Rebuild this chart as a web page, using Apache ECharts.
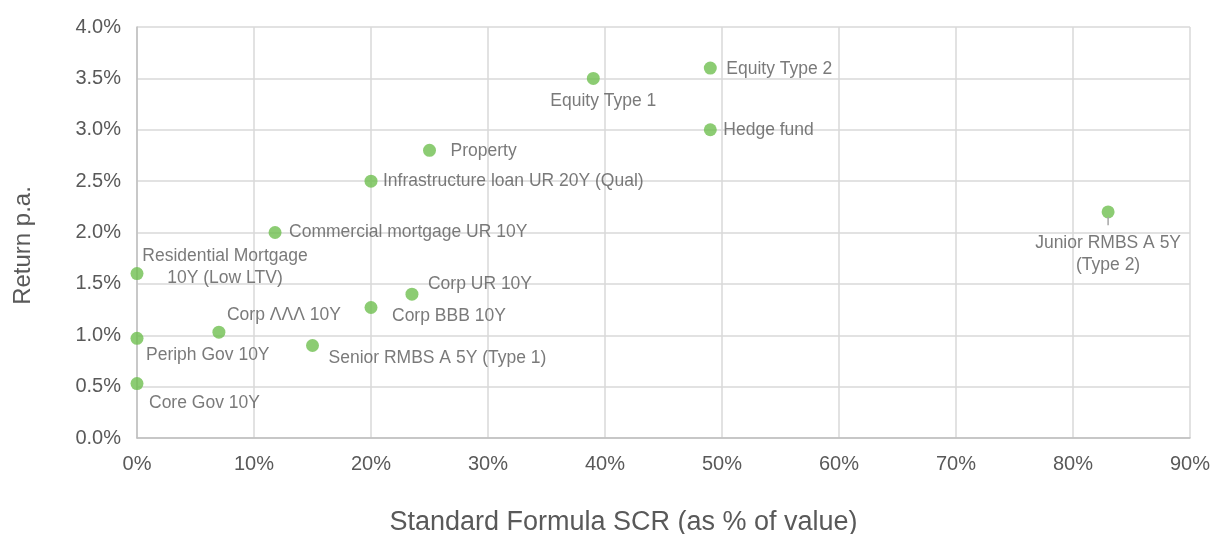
<!DOCTYPE html>
<html>
<head>
<meta charset="utf-8">
<script src="https://cdn.jsdelivr.net/npm/echarts@6/dist/echarts.min.js"></script>
<style>
  html, body { margin: 0; padding: 0; background: #fff; }
  #chart { width: 1212px; height: 534px; }
</style>
</head>
<body>
<div id="chart"></div>
<script>
// asset classes, SCR (% of value) and return p.a. (%)
const assetNames = [
  'Equity Type 2', 'Equity Type 1', 'Hedge fund', 'Property',
  'Infrastructure loan UR 20Y (Qual)', 'Commercial mortgage UR 10Y',
  'Residential Mortgage\n10Y (Low LTV)', 'Corp UR 10Y', 'Corp BBB 10Y',
  'Corp ΛΛΛ 10Y', 'Periph Gov 10Y', 'Senior RMBS A 5Y (Type 1)',
  'Core Gov 10Y', 'Junior RMBS A 5Y\n(Type 2)'
];
const scrValues = [49, 39, 49, 25, 20, 11.8, 0, 23.5, 20, 7, 0, 15, 0, 83];
const returnValues = [3.6, 3.5, 3.0, 2.8, 2.5, 2.0, 1.6, 1.4, 1.27, 1.03, 0.97, 0.9, 0.53, 2.2];

// where each label sits relative to its point: [align, dx, dy]
const labelPlace = [
  ['left', 16, 1], ['center', 10, 23], ['left', 13, 0], ['left', 21, 1],
  ['left', 12, 0], ['left', 14, 0], ['center', 88, -6], ['left', 16, -10],
  ['left', 21, 9], ['center', 65, -17], ['left', 9, 17], ['left', 16, 13],
  ['left', 12, 20], ['center', 0, 42]
];

const chart = echarts.init(document.getElementById('chart'));
const textColor = '#595959';
const font = 'Liberation Sans';

const points = assetNames.map((name, i) => ({
  name: name,
  value: [scrValues[i], returnValues[i]],
  label: {
    align: labelPlace[i][0],
    offset: [labelPlace[i][1], labelPlace[i][2]]
  }
}));

chart.setOption({
  animation: false,
  grid: { left: 137, right: 22, top: 27, bottom: 96, outerBoundsMode: 'none', containLabel: false },
  xAxis: {
    type: 'value',
    min: 0, max: 90, interval: 10,
    name: 'Standard Formula SCR (as % of value)',
    nameLocation: 'middle',
    nameGap: 71,
    nameTextStyle: { fontSize: 27, color: textColor, fontFamily: font, padding: [0, 80, 0, 0] },
    axisLine: { show: true, lineStyle: { color: '#bfbfbf', width: 1.5 } },
    axisTick: { show: false },
    axisLabel: { formatter: '{value}%', fontSize: 20, color: textColor, margin: 16, fontFamily: font },
    splitLine: { show: true, lineStyle: { color: '#d9d9d9', width: 1.5 } }
  },
  yAxis: {
    type: 'value',
    min: 0, max: 4, interval: 0.5,
    name: 'Return p.a.',
    nameLocation: 'middle',
    nameGap: 102,
    nameTextStyle: { fontSize: 24, color: textColor, fontFamily: font, padding: [0, 26, 0, 0] },
    axisLine: { show: true, lineStyle: { color: '#bfbfbf', width: 1.5 } },
    axisTick: { show: false },
    axisLabel: {
      formatter: v => v.toFixed(1) + '%',
      fontSize: 20, color: textColor, margin: 16, fontFamily: font
    },
    splitLine: { show: true, lineStyle: { color: '#d9d9d9', width: 1.5 } }
  },
  series: [{
    type: 'scatter',
    symbolSize: 13,
    itemStyle: { color: '#6fbf50' },
    data: points,
    label: {
      show: true,
      position: 'inside',
      verticalAlign: 'middle',
      formatter: '{b}',
      fontSize: 17.5,
      lineHeight: 22,
      color: textColor,
      fontFamily: font
    }
  }, {
    // short leader line under the Junior RMBS point
    type: 'line',
    silent: true,
    symbol: 'none',
    lineStyle: { color: '#a6a6a6', width: 1.5 },
    data: [[scrValues[13], returnValues[13] - 0.05], [scrValues[13], returnValues[13] - 0.13]]
  }]
});
</script>
</body>
</html>
